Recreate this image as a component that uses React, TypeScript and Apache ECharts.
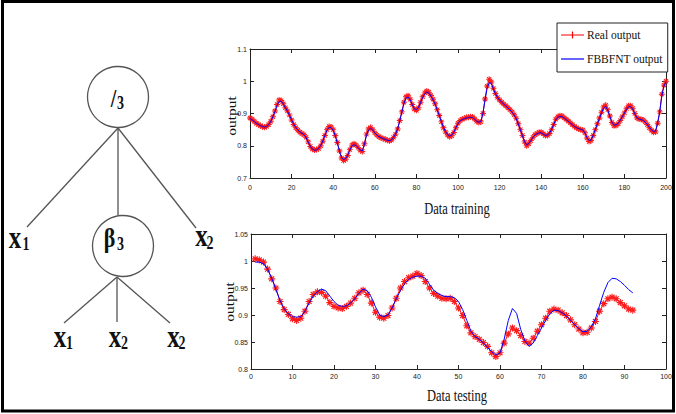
import React, { useEffect, useRef } from "react";
import * as echarts from "echarts";

// ---------- data ----------
const trainTicks = [0, 20, 40, 60, 80, 100, 120, 140, 160, 180, 200];
const testTicks = [0, 10, 20, 30, 40, 50, 60, 70, 80, 90, 100];

// training set, x = 0..200
const realTrain = [
  0.886, 0.882, 0.876, 0.870, 0.866, 0.862, 0.859, 0.857, 0.860, 0.866,
  0.876, 0.890, 0.908, 0.928, 0.942, 0.940, 0.930, 0.918, 0.908, 0.895,
  0.880, 0.866, 0.856, 0.848, 0.842, 0.838, 0.834, 0.826, 0.812, 0.798,
  0.790, 0.787, 0.788, 0.791, 0.800, 0.814, 0.832, 0.850, 0.860, 0.858,
  0.850, 0.832, 0.810, 0.784, 0.762, 0.754, 0.758, 0.770, 0.788, 0.802,
  0.806, 0.802, 0.795, 0.786, 0.782, 0.806, 0.836, 0.852, 0.857, 0.850,
  0.840, 0.833, 0.828, 0.825, 0.822, 0.820, 0.817, 0.815, 0.818, 0.826,
  0.836, 0.852, 0.878, 0.905, 0.935, 0.952, 0.955, 0.944, 0.928, 0.914,
  0.910, 0.918, 0.935, 0.952, 0.964, 0.970, 0.966, 0.956, 0.944, 0.930,
  0.912, 0.894, 0.874, 0.856, 0.843, 0.833, 0.828, 0.831, 0.841, 0.856,
  0.870, 0.878, 0.882, 0.885, 0.888, 0.888, 0.890, 0.889, 0.883, 0.876,
  0.872, 0.874, 0.900, 0.945, 0.985, 1.006, 0.998, 0.978, 0.962, 0.950,
  0.942, 0.935, 0.929, 0.924, 0.918, 0.912, 0.905, 0.896, 0.885, 0.868,
  0.850, 0.832, 0.812, 0.800, 0.806, 0.816, 0.826, 0.834, 0.838, 0.842,
  0.842, 0.837, 0.832, 0.832, 0.838, 0.850, 0.866, 0.882, 0.890, 0.893,
  0.892, 0.887, 0.882, 0.877, 0.871, 0.865, 0.860, 0.856, 0.852, 0.850,
  0.849, 0.840, 0.824, 0.813, 0.816, 0.832, 0.850, 0.868, 0.886, 0.904,
  0.920, 0.926, 0.912, 0.892, 0.872, 0.862, 0.863, 0.868, 0.878, 0.890,
  0.902, 0.915, 0.924, 0.924, 0.916, 0.900, 0.887, 0.883, 0.882, 0.880,
  0.874, 0.866, 0.856, 0.848, 0.842, 0.843, 0.870, 0.905, 0.960, 0.988,
  1.000,
];

const fbbfntTrain = [
  0.884, 0.880, 0.875, 0.870, 0.866, 0.862, 0.860, 0.858, 0.860, 0.866,
  0.876, 0.890, 0.906, 0.924, 0.937, 0.938, 0.930, 0.918, 0.907, 0.894,
  0.880, 0.867, 0.857, 0.849, 0.843, 0.839, 0.834, 0.825, 0.811, 0.798,
  0.790, 0.786, 0.787, 0.792, 0.801, 0.815, 0.832, 0.848, 0.857, 0.856,
  0.848, 0.831, 0.808, 0.784, 0.764, 0.757, 0.761, 0.772, 0.787, 0.799,
  0.803, 0.800, 0.794, 0.787, 0.784, 0.804, 0.832, 0.849, 0.854, 0.849,
  0.840, 0.833, 0.828, 0.825, 0.822, 0.820, 0.817, 0.816, 0.818, 0.826,
  0.837, 0.853, 0.878, 0.904, 0.931, 0.948, 0.951, 0.942, 0.927, 0.915,
  0.912, 0.919, 0.934, 0.950, 0.961, 0.966, 0.963, 0.954, 0.942, 0.929,
  0.912, 0.894, 0.875, 0.857, 0.844, 0.835, 0.830, 0.833, 0.842, 0.856,
  0.869, 0.877, 0.881, 0.884, 0.886, 0.887, 0.888, 0.887, 0.882, 0.876,
  0.873, 0.876, 0.901, 0.942, 0.978, 0.996, 0.993, 0.976, 0.961, 0.950,
  0.942, 0.935, 0.929, 0.923, 0.917, 0.911, 0.904, 0.895, 0.884, 0.867,
  0.849, 0.831, 0.813, 0.803, 0.807, 0.816, 0.826, 0.833, 0.837, 0.840,
  0.840, 0.836, 0.832, 0.833, 0.839, 0.851, 0.866, 0.880, 0.888, 0.891,
  0.890, 0.886, 0.881, 0.876, 0.870, 0.865, 0.860, 0.856, 0.853, 0.851,
  0.849, 0.840, 0.826, 0.816, 0.818, 0.833, 0.850, 0.867, 0.885, 0.902,
  0.917, 0.922, 0.910, 0.891, 0.873, 0.864, 0.865, 0.869, 0.879, 0.890,
  0.901, 0.913, 0.921, 0.921, 0.914, 0.899, 0.887, 0.883, 0.881, 0.879,
  0.873, 0.866, 0.857, 0.849, 0.844, 0.846, 0.872, 0.906, 0.955, 0.985,
  0.998,
];

// testing set, x = 1..92
const testStart = 1;
const realTest = [
  1.004, 1.002, 0.998, 0.985, 0.967, 0.950, 0.925, 0.910, 0.901, 0.893,
  0.890, 0.894, 0.907, 0.925, 0.938, 0.943, 0.942, 0.935, 0.923, 0.916,
  0.913, 0.912, 0.916, 0.922, 0.931, 0.941, 0.946, 0.938, 0.922, 0.905,
  0.896, 0.894, 0.899, 0.913, 0.931, 0.950, 0.962, 0.969, 0.972, 0.977,
  0.973, 0.962, 0.950, 0.940, 0.935, 0.931, 0.930, 0.931, 0.925, 0.913,
  0.899, 0.880, 0.867, 0.860, 0.855, 0.849, 0.842, 0.830, 0.823, 0.830,
  0.848, 0.865, 0.876, 0.871, 0.862, 0.851, 0.848, 0.857, 0.870, 0.882,
  0.894, 0.907, 0.911, 0.909, 0.904, 0.899, 0.891, 0.882, 0.874, 0.867,
  0.868, 0.876, 0.888, 0.907, 0.921, 0.930, 0.933, 0.930, 0.923, 0.917,
  0.911, 0.909,
];

const fbbfntTest = [
  0.998, 0.998, 0.995, 0.985, 0.968, 0.947, 0.927, 0.912, 0.902, 0.897,
  0.896, 0.897, 0.907, 0.922, 0.935, 0.943, 0.948, 0.945, 0.935, 0.925,
  0.918, 0.916, 0.917, 0.922, 0.930, 0.940, 0.948, 0.945, 0.933, 0.915,
  0.900, 0.897, 0.900, 0.913, 0.930, 0.945, 0.958, 0.966, 0.970, 0.972,
  0.972, 0.968, 0.957, 0.946, 0.940, 0.936, 0.934, 0.934, 0.932, 0.925,
  0.910, 0.890, 0.870, 0.860, 0.855, 0.848, 0.840, 0.832, 0.826, 0.830,
  0.855, 0.890, 0.912, 0.903, 0.873, 0.852, 0.842, 0.848, 0.862, 0.876,
  0.890, 0.902, 0.909, 0.908, 0.904, 0.898, 0.890, 0.882, 0.875, 0.869,
  0.870, 0.878, 0.893, 0.918, 0.942, 0.960, 0.968, 0.967, 0.962, 0.955,
  0.947, 0.941,
];

const seriesNames = ["Real output", "FBBFNT output"];

// ---------- styles ----------
const ASTERISK =
  "path://M-0.8,-5L0.8,-5L0.8,5L-0.8,5Z M-5,-0.8L5,-0.8L5,0.8L-5,0.8Z M-4.1,-2.9L-2.9,-4.1L4.1,2.9L2.9,4.1Z M2.9,-4.1L4.1,-2.9L-2.9,4.1L-4.1,2.9Z";
const LEGEND_RED = "path://M0,6.4H23V7.6H0Z M10.9,3.5H12.1V10.5H10.9Z M8.5,6.4H14.5V7.6H8.5Z";
const LEGEND_BLUE = "path://M0,0H23V1.2H0Z";

const SERIF = "'Liberation Serif', 'DejaVu Serif', serif";
const NARROW = "'Liberation Sans Narrow', 'Liberation Sans', Arial, sans-serif";
const AX = "#222";
const TREE = "#555";

function axisPair(
  gridIndex: number,
  min: number,
  max: number,
  interval: number,
  isX: boolean,
  labelMargin: number
) {
  const common = {
    gridIndex,
    type: "value" as const,
    min,
    max,
    interval,
    axisLine: { show: true, onZero: false, lineStyle: { color: AX, width: 1 } },
    axisTick: { show: true, inside: true, length: 4, lineStyle: { color: AX, width: 1 } },
    splitLine: { show: false },
  };
  return [
    {
      ...common,
      position: isX ? "bottom" : "left",
      axisLabel: {
        show: true,
        fontSize: 7,
        color: "#222",
        fontFamily: NARROW,
        margin: labelMargin,
      },
    },
    {
      ...common,
      position: isX ? "top" : "right",
      axisLabel: { show: false },
    },
  ];
}

function txt(
  text: string,
  x: number,
  y: number,
  fontSize: number,
  opts: { bold?: boolean; sx?: number; sy?: number; rot?: number; color?: string } = {}
) {
  return {
    type: "text",
    x,
    y,
    rotation: opts.rot || 0,
    scaleX: opts.sx || 1,
    scaleY: opts.sy || 1,
    style: {
      text,
      x: 0,
      y: 0,
      align: "center",
      verticalAlign: "middle",
      fontSize,
      fontFamily: SERIF,
      fontWeight: opts.bold ? "bold" : "normal",
      fill: opts.color || "#111",
    },
  };
}

function line(x1: number, y1: number, x2: number, y2: number) {
  return {
    type: "line",
    shape: { x1, y1, x2, y2 },
    style: { stroke: TREE, lineWidth: 1.3 },
  };
}

export default function App() {
  const ref = useRef<HTMLDivElement>(null);

  useEffect(() => {
    if (!ref.current) return;
    const chart = echarts.init(ref.current, undefined, { renderer: "svg" });

    const trainReal = realTrain.map((v, i) => [trainTicks[0] + i, v]);
    const trainModel = fbbfntTrain.map((v, i) => [trainTicks[0] + i, v]);
    const testReal = realTest.map((v, i) => [testStart + i, v]);
    const testModel = fbbfntTest.map((v, i) => [testStart + i, v]);

    const xTop = axisPair(0, trainTicks[0], trainTicks[trainTicks.length - 1], 20, true, 6);
    const yTop = axisPair(0, 0.7, 1.1, 0.1, false, 3);
    const xBot = axisPair(1, testTicks[0], testTicks[testTicks.length - 1], 10, true, 4);
    const yBot = axisPair(1, 0.8, 1.05, 0.05, false, 3);

    const big = 25;
    const sub = 14;
    const sy = 1.25;

    const option: any = {
      animation: false,
      backgroundColor: "#ffffff",
      grid: [
        { left: 250, top: 49, width: 416, height: 129 },
        { left: 251, top: 234, width: 415, height: 135 },
      ],
      xAxis: [...xTop, ...xBot],
      yAxis: [...yTop, ...yBot],
      legend: {
        data: [
          { name: seriesNames[0], icon: LEGEND_RED, itemStyle: { color: "#ff0000" } },
          { name: seriesNames[1], icon: LEGEND_BLUE, itemStyle: { color: "#0000ff" } },
        ],
        left: 557,
        top: 23,
        orient: "vertical",
        backgroundColor: "#ffffff",
        borderColor: "#222",
        borderWidth: 1,
        padding: [6, 5, 7, 4],
        itemGap: 12,
        itemWidth: 23,
        itemHeight: 14,
        symbolKeepAspect: true,
        selectedMode: false,
        textStyle: { fontFamily: SERIF, fontSize: 11.5, color: "#111", padding: [0, 0, 0, -2] },
      },
      series: [
        {
          name: seriesNames[0],
          type: "line",
          xAxisIndex: 0,
          yAxisIndex: 0,
          data: trainReal,
          symbol: ASTERISK,
          symbolSize: 6,
          showAllSymbol: true,
          lineStyle: { color: "#ff0000", width: 1 },
          itemStyle: { color: "#ff1a1a" },
          z: 2,
        },
        {
          name: seriesNames[1],
          type: "line",
          xAxisIndex: 0,
          yAxisIndex: 0,
          data: trainModel,
          showSymbol: false,
          symbol: "none",
          lineStyle: { color: "#0000ff", width: 1 },
          itemStyle: { color: "#0000ff" },
          z: 3,
        },
        {
          name: seriesNames[0],
          type: "line",
          xAxisIndex: 2,
          yAxisIndex: 2,
          data: testReal,
          symbol: ASTERISK,
          symbolSize: 7,
          showAllSymbol: true,
          lineStyle: { color: "#ff0000", width: 1 },
          itemStyle: { color: "#ff1a1a" },
          z: 2,
        },
        {
          name: seriesNames[1],
          type: "line",
          xAxisIndex: 2,
          yAxisIndex: 2,
          data: testModel,
          showSymbol: false,
          symbol: "none",
          lineStyle: { color: "#0000ff", width: 1 },
          itemStyle: { color: "#0000ff" },
          z: 3,
        },
      ],
      graphic: {
        elements: [
          // outer frame
          {
            type: "rect",
            shape: { x: 2.5, y: 1.5, width: 671, height: 409.5 },
            style: { fill: "none", stroke: "#000", lineWidth: 3 },
            z: 10,
          },
          // axis names
          txt("Data training", 457, 208, 12.5, { sy: 1.35 }),
          txt("Data testing", 457, 395, 12.5, { sy: 1.35 }),
          txt("output", 232, 116, 11.5, { sx: 1.35, rot: Math.PI / 2 }),
          txt("output", 230, 302, 11.5, { sx: 1.35, rot: Math.PI / 2 }),
          // tree edges
          line(118, 128, 27, 227),
          line(118, 128, 118, 215),
          line(118, 128, 196, 228),
          line(117, 277, 64, 323),
          line(117, 277, 117, 322),
          line(117, 277, 170, 323),
          // tree nodes
          {
            type: "circle",
            shape: { cx: 118, cy: 97, r: 30.5 },
            style: { fill: "#fff", stroke: TREE, lineWidth: 1.3 },
          },
          {
            type: "circle",
            shape: { cx: 123, cy: 246, r: 30.5 },
            style: { fill: "#fff", stroke: TREE, lineWidth: 1.3 },
          },
          txt("/", 113.5, 98.5, 20, { bold: true, sy }),
          txt("3", 120.5, 103.5, sub, { bold: true, sy: 1.3 }),
          txt("β", 109.5, 238, 22, { bold: true, sy }),
          txt("3", 120.5, 244.5, sub, { bold: true, sy: 1.3 }),
          // leaves
          txt("x", 15, 238, big, { bold: true, sy }),
          txt("1", 26, 244, sub, { bold: true, sy: 1.3 }),
          txt("x", 201.5, 236, big, { bold: true, sy }),
          txt("2", 210, 243, sub, { bold: true, sy: 1.3 }),
          txt("x", 60, 337, big, { bold: true, sy }),
          txt("1", 69.5, 343, sub, { bold: true, sy: 1.3 }),
          txt("x", 115, 337, big, { bold: true, sy }),
          txt("2", 124.5, 343, sub, { bold: true, sy: 1.3 }),
          txt("x", 173.5, 337, big, { bold: true, sy }),
          txt("2", 182, 343, sub, { bold: true, sy: 1.3 }),
        ],
      },
    };

    chart.setOption(option);
    return () => {
      chart.dispose();
    };
  }, []);

  return (
    <div
      ref={ref}
      style={{ position: "fixed", left: 0, top: 0, width: 676, height: 414, background: "#fff" }}
    />
  );
}
